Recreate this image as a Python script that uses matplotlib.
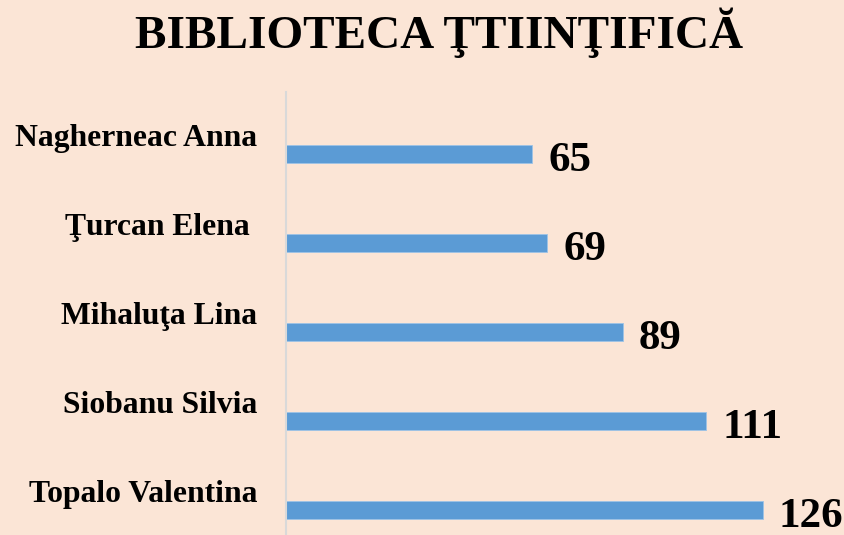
import matplotlib
matplotlib.use("Agg")
import matplotlib.pyplot as plt
import matplotlib.transforms as mtransforms
import numpy as np

title = "BIBLIOTECA ŢTIINŢIFICĂ"
names = ["Nagherneac Anna", "Ţurcan Elena ", "Mihaluţa Lina", "Siobanu Silvia", "Topalo Valentina"]
values = [65, 69, 89, 111, 126]

bg = "#FBE5D6"
bar_color = "#5B9BD5"
font = ["Liberation Serif", "DejaVu Serif"]

fig = plt.figure(figsize=(8.44, 5.35), dpi=100, facecolor=bg)
ax = fig.add_axes([286/844, 0.0, (816-286)/844, (535-92)/535])
ax.set_facecolor(bg)

pos = np.arange(len(names))
ax.barh(pos, values, height=18/89, color=bar_color, edgecolor="#9DC3E6", linewidth=0.6)

ax.set_xlim(0, 140)
ax.set_ylim(4.28, -0.697)

for s in ["top", "right", "bottom"]:
    ax.spines[s].set_visible(False)
ax.spines["left"].set_color("#D9D9D9")
ax.spines["left"].set_linewidth(1.5)
ax.set_xticks([])

ax.set_yticks(pos)
ax.set_yticklabels(names, fontfamily=font, fontweight="bold", fontsize=22.8)
ax.tick_params(axis="y", length=0, pad=20.5)
shift = mtransforms.ScaledTranslation(0, 8/100, fig.dpi_scale_trans)
for lab in ax.get_yticklabels():
    lab.set_verticalalignment("baseline")
    lab.set_transform(lab.get_transform() + shift)

for p, v in zip(pos, values):
    ax.annotate(str(v), xy=(v, p), xytext=(16, -16.7), textcoords="offset pixels",
                ha="left", va="baseline", fontfamily=font, fontweight="bold",
                fontsize=31, annotation_clip=False)

fig.text(439/844, 1 - 48/535, title, ha="center", va="baseline",
         fontfamily=font, fontweight="bold", fontsize=34)

fig.savefig("out.png", dpi=100, facecolor=bg)
